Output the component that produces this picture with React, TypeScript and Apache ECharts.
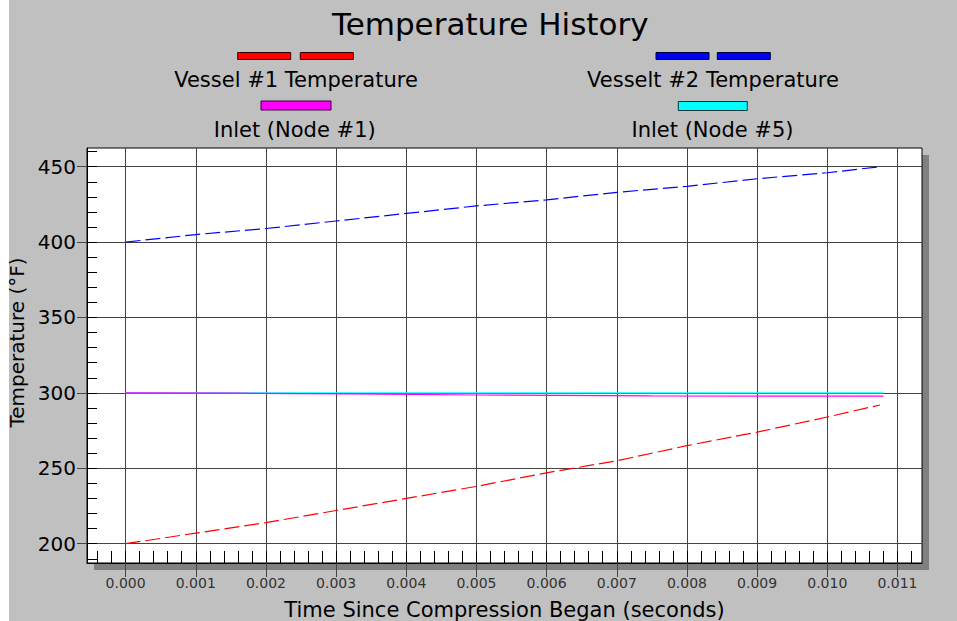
import { useEffect, useRef } from 'react';
import * as echarts from 'echarts';

// ---- data ----
const vesselTime = [0, 0.001, 0.002, 0.003, 0.004, 0.005, 0.006, 0.007, 0.008, 0.009, 0.01, 0.01075];
const vessel1Temp = [200, 207, 214, 222, 230, 238, 247, 255, 265, 274, 284, 292];
const vessel2Temp = [400, 405, 409, 414, 419, 424, 428, 433, 437, 442, 446, 450];
const inlet1Time = [0, 0.0016, 0.0032, 0.005, 0.0075, 0.0108];
const inlet1Temp = [300, 299.8, 299.3, 298.6, 298.0, 297.8];
const inlet5Time = [0, 0.0108];
const inlet5Temp = [300, 300];

// ---- axis ticks ----
const xTickValues = [0, 0.001, 0.002, 0.003, 0.004, 0.005, 0.006, 0.007, 0.008, 0.009, 0.01, 0.011];
const yTickValues = [200, 250, 300, 350, 400, 450];
const xMinorTickValues: number[] = [];
for (let k = -2; k <= 56; k++) xMinorTickValues.push(Number((k * 0.0002).toFixed(4)));
const yMinorTickValues: number[] = [];
for (let v = 190; v <= 460; v += 10) yMinorTickValues.push(v);

const X_MIN = -0.00055;
const X_MAX = 0.01135;
const Y_MIN = 187.2;
const Y_MAX = 462.4;

const FONT = 'DejaVu Sans';

export default function App() {
  const ref = useRef<HTMLDivElement>(null);
  useEffect(() => {
    if (!ref.current) return;
    const chart = echarts.init(ref.current, null, { renderer: 'svg' });
    const pair = (xs: number[], ys: number[]) => xs.map((x, i) => [x, ys[i]]);
    const gridL = 87, gridT = 148, gridW = 835, gridH = 415;
    const legendText = (x: number, y: number, text: string) => ({
      type: 'text', x, y, silent: true,
      style: { text, fontSize: 21, fontFamily: FONT, fill: '#000', align: 'center', verticalAlign: 'middle' },
    });
    const legendRect = (x: number, y: number, w: number, h: number, fill: string, stroke: string) => ({
      type: 'rect', silent: true, shape: { x, y, width: w, height: h },
      style: { fill, stroke, lineWidth: 1 },
    });
    chart.setOption({
      animation: false,
      backgroundColor: '#c0c0c0',
      title: {
        text: 'Temperature History',
        left: 332,
        top: 8,
        padding: 0,
        textStyle: { fontSize: 31, fontWeight: 'normal', color: '#000', fontFamily: FONT },
      },
      grid: {
        left: gridL, top: gridT, width: gridW, height: gridH,
        containLabel: false, outerBoundsMode: 'none',
        show: true, backgroundColor: '#ffffff', borderColor: '#000', borderWidth: 1,
      },
      graphic: [
        { type: 'rect', z: -5, silent: true, shape: { x: 0, y: 0, width: 9, height: 621 }, style: { fill: '#ffffff' } },
        { type: 'rect', z: -5, silent: true, shape: { x: gridL + 7, y: gridT + 7, width: gridW, height: gridH }, style: { fill: '#808080' } },
        legendRect(237.7, 52.5, 53, 7, '#ff0000', '#3a0000'),
        legendRect(300.3, 52.5, 53, 7, '#ff0000', '#3a0000'),
        legendText(296, 80, 'Vessel #1 Temperature'),
        legendRect(261, 101, 70, 9, '#ff00ff', '#3a003a'),
        legendText(294.7, 130, 'Inlet (Node #1)'),
        legendRect(656, 52.5, 53, 7, '#0000f0', '#00003a'),
        legendRect(717.3, 52.5, 53, 7, '#0000f0', '#00003a'),
        legendText(713, 80, 'Vesselt #2 Temperature'),
        legendRect(678.3, 101.5, 69, 9, '#00ffff', '#003a3a'),
        legendText(712.5, 130, 'Inlet (Node #5)'),
      ],
      xAxis: [
        {
          type: 'value', min: X_MIN, max: X_MAX, splitNumber: 12, position: 'bottom',
          name: 'Time Since Compression Began (seconds)', nameLocation: 'middle', nameGap: 36,
          nameTextStyle: { fontSize: 21, fontFamily: FONT, color: '#000' },
          axisLine: { show: true, onZero: false, lineStyle: { color: '#000', width: 1 } },
          axisTick: { show: true, inside: false, length: 14, customValues: xTickValues, lineStyle: { color: '#444', width: 1 } },
          axisLabel: {
            show: true, margin: 13, fontSize: 14, fontFamily: FONT, color: '#333', customValues: xTickValues,
            formatter: (v: number) => (Math.abs(v * 1000 - Math.round(v * 1000)) < 1e-6 ? v.toFixed(3) : ''),
          },
          splitLine: { show: true, lineStyle: { color: '#444', width: 1 } },
        },
        {
          type: 'value', min: X_MIN, max: X_MAX, position: 'bottom',
          axisLine: { show: false, onZero: false },
          axisLabel: { show: false },
          splitLine: { show: false },
          axisTick: { show: true, inside: true, length: 12, customValues: xMinorTickValues, lineStyle: { color: '#000', width: 1 } },
        },
      ],
      yAxis: [
        {
          type: 'value', min: Y_MIN, max: Y_MAX, splitNumber: 6, position: 'left',
          name: 'Temperature (°F)', nameLocation: 'middle', nameGap: 44,
          nameTextStyle: { fontSize: 20, fontFamily: FONT, color: '#000', padding: [0, 0, 0, 26] },
          axisLine: { show: true, onZero: false, lineStyle: { color: '#000', width: 1 } },
          axisTick: { show: true, inside: false, length: 10, customValues: yTickValues, lineStyle: { color: '#444', width: 1 } },
          axisLabel: {
            show: true, margin: 11, fontSize: 20, fontFamily: FONT, color: '#000', customValues: yTickValues,
            formatter: (v: number) => (Math.abs(v % 50) < 1e-6 ? String(v) : ''),
          },
          splitLine: { show: true, lineStyle: { color: '#444', width: 1 } },
        },
        {
          type: 'value', min: Y_MIN, max: Y_MAX, position: 'left',
          axisLine: { show: false, onZero: false },
          axisLabel: { show: false },
          splitLine: { show: false },
          axisTick: { show: true, inside: true, length: 10, customValues: yMinorTickValues, lineStyle: { color: '#000', width: 1 } },
        },
      ],
      series: [
        {
          name: 'Inlet (Node #5)', type: 'line', xAxisIndex: 0, yAxisIndex: 0, symbol: 'none',
          data: pair(inlet5Time, inlet5Temp), lineStyle: { color: '#00ffff', width: 1.2 }, itemStyle: { color: '#00ffff' },
        },
        {
          name: 'Inlet (Node #1)', type: 'line', xAxisIndex: 0, yAxisIndex: 0, symbol: 'none',
          data: pair(inlet1Time, inlet1Temp), lineStyle: { color: '#ff00ff', width: 1.2 }, itemStyle: { color: '#ff00ff' },
        },
        {
          name: 'Vessel #1 Temperature', type: 'line', xAxisIndex: 0, yAxisIndex: 0, symbol: 'none',
          data: pair(vesselTime, vessel1Temp), lineStyle: { color: '#ff0000', width: 1.2, type: [15, 5] }, itemStyle: { color: '#ff0000' },
        },
        {
          name: 'Vesselt #2 Temperature', type: 'line', xAxisIndex: 0, yAxisIndex: 0, symbol: 'none',
          data: pair(vesselTime, vessel2Temp), lineStyle: { color: '#0000ff', width: 1.2, type: [15, 5] }, itemStyle: { color: '#0000ff' },
        },
      ],
    });
    return () => chart.dispose();
  }, []);
  return (
    <div
      ref={ref}
      style={{ position: 'absolute', left: 0, top: 0, width: 957, height: 621, background: '#c0c0c0' }}
    />
  );
}
